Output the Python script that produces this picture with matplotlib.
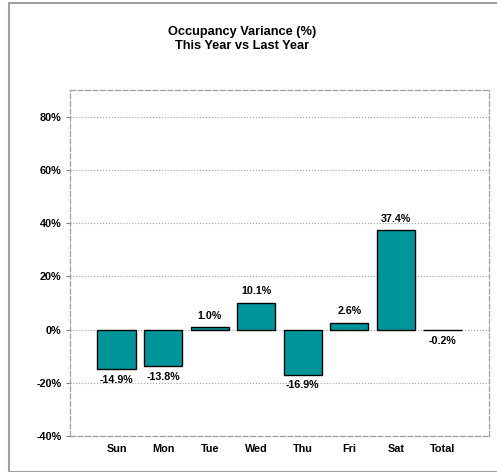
import matplotlib
matplotlib.use("Agg")
import matplotlib.pyplot as plt
from matplotlib.patches import Rectangle

days = ['Sun', 'Mon', 'Tue', 'Wed', 'Thu', 'Fri', 'Sat', 'Total']
variance = [-14.9, -13.8, 1.0, 10.1, -16.9, 2.6, 37.4, -0.2]
yticks = [-40, -20, 0, 20, 40, 60, 80]

plt.rcParams['font.family'] = ['Liberation Sans', 'DejaVu Sans']
plt.rcParams['font.weight'] = 'bold'

W, H = 497, 472
fig = plt.figure(figsize=(W / 100, H / 100), dpi=100)

# outer frame of the chart object
fig.patches.append(Rectangle((9 / W, 0), 1, 1 - 3 / H, transform=fig.transFigure,
                             fill=False, edgecolor='#a0a0a0', lw=1.5))

ax = fig.add_axes([70 / W, 1 - 436 / H, 419 / W, 346 / H])

x = list(range(len(days)))
ax.bar(x, variance, width=0.82, color='#00959a', edgecolor='black', lw=1.0, zorder=3)

for xi, v in zip(x, variance):
    if v >= 0:
        ax.annotate(f'{v:.1f}%', (xi, v), xytext=(0, 4.5), textcoords='offset points',
                    ha='center', va='bottom', fontsize=7.7, fontweight='bold')
    else:
        ax.annotate(f'{v:.1f}%', (xi, v), xytext=(0, -4), textcoords='offset points',
                    ha='center', va='top', fontsize=7.7, fontweight='bold')

ax.set_xlim(-1, 8)
ax.set_ylim(-40, 90)
ax.set_yticks(yticks)
ax.set_yticklabels([f'{t}%' for t in yticks], fontsize=7.8, fontweight='bold')
ax.set_xticks(x)
ax.set_xticklabels(days, fontsize=7.8, fontweight='bold')
ax.tick_params(axis='x', length=0, pad=6)
ax.tick_params(axis='y', length=3, width=0.8, color='#808080', pad=3)

ax.grid(axis='y', color='#a0a0a0', linestyle=':', lw=0.8, zorder=0)
for s in ax.spines.values():
    s.set_color('#a0a0a0')
    s.set_linestyle((0, (4, 2)))
    s.set_linewidth(0.9)

fig.text(242 / W, 1 - 35 / H, 'Occupancy Variance (%)', ha='center', va='baseline',
         fontsize=9.2, fontweight='bold')
fig.text(242 / W, 1 - 49 / H, 'This Year vs Last Year', ha='center', va='baseline',
         fontsize=9.2, fontweight='bold')

fig.savefig('out.png', dpi=100)
